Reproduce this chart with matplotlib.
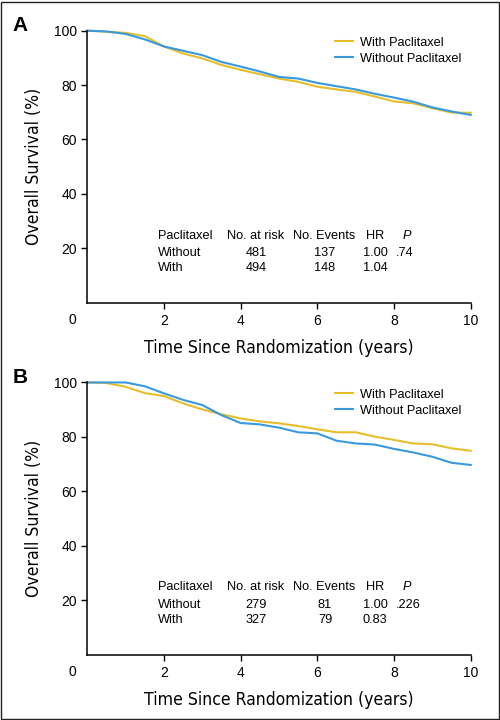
import matplotlib
matplotlib.use("Agg")
import matplotlib.pyplot as plt
from matplotlib.patches import Rectangle

# ---- data -----------------------------------------------------------------
years_a = [0, 0.5, 1.0, 1.5, 2.0, 2.5, 3.0, 3.5, 4.0, 4.5, 5.0, 5.5, 6.0,
           6.5, 7.0, 7.5, 8.0, 8.5, 9.0, 9.5, 10.0]
with_a = [100, 99.6, 99.2, 98.0, 94.2, 91.6, 89.8, 87.4, 85.6, 84.0, 82.4,
          81.2, 79.4, 78.4, 77.5, 75.8, 74.0, 73.3, 71.5, 69.9, 69.8]
without_a = [100, 99.7, 98.8, 96.8, 94.2, 92.6, 91.0, 88.5, 86.8, 85.0, 83.0,
             82.4, 80.8, 79.6, 78.4, 76.8, 75.4, 73.9, 71.8, 70.3, 69.0]

years_b = [0, 0.5, 1.0, 1.5, 2.0, 2.5, 3.0, 3.5, 4.0, 4.5, 5.0, 5.5, 6.0,
           6.5, 7.0, 7.5, 8.0, 8.5, 9.0, 9.5, 10.0]
with_b = [100, 99.8, 98.4, 96.1, 95.0, 92.3, 90.1, 88.3, 86.8, 85.7, 85.0,
          84.0, 82.8, 81.7, 81.7, 80.1, 78.9, 77.6, 77.3, 75.8, 74.9]
without_b = [100, 100, 100, 98.6, 96.0, 93.6, 91.7, 88.0, 85.1, 84.6, 83.4,
             81.7, 81.3, 78.6, 77.6, 77.2, 75.6, 74.3, 72.7, 70.5, 69.7]

table_header = ["Paclitaxel", "No. at risk", "No. Events", "HR", "P"]
groups = ["Without", "With"]
at_risk_a = ["481", "494"]
events_a = ["137", "148"]
hr_a = ["1.00", "1.04"]
p_a = ".74"
at_risk_b = ["279", "327"]
events_b = ["81", "79"]
hr_b = ["1.00", "0.83"]
p_b = ".226"

YELLOW = "#E5BE2A"
BLUE = "#3A99DE"
SANS = ["Liberation Sans", "DejaVu Sans"]
FS = 10      # tick labels
FS_T = 9.2   # table and legend

plt.rcParams["font.family"] = SANS
plt.rcParams["font.size"] = FS_T


def panel(ax, years, yw, ywo, at_risk, events, hr, p, letter):
    ax.plot(years, yw, color=YELLOW, lw=1.5, label="With Paclitaxel", clip_on=False)
    ax.plot(years, ywo, color=BLUE, lw=1.5, label="Without Paclitaxel", clip_on=False)
    ax.set_xlim(0, 10)
    ax.set_ylim(0, 100)
    ax.set_xticks([2, 4, 6, 8, 10])
    ax.set_yticks([20, 40, 60, 80, 100])
    for s in ("top", "right"):
        ax.spines[s].set_visible(False)
    for s in ("left", "bottom"):
        ax.spines[s].set_linewidth(1.1)
    ax.tick_params(direction="out", length=4.5, width=1.0, labelsize=FS, pad=3)
    ax.tick_params(axis="x", pad=3.5)
    ax.text(-0.4, -6.3, "0", ha="center", va="center", fontsize=FS)
    ax.set_xlabel("Time Since Randomization (years)", family="DejaVu Sans",
                  fontstretch="condensed", fontsize=12.6, labelpad=8)
    ax.set_ylabel("Overall Survival (%)", family="DejaVu Sans",
                  fontstretch="condensed", fontsize=12.6, labelpad=7.5)
    ax.legend(loc="upper left", bbox_to_anchor=(0.647, 0.977), frameon=False,
              borderaxespad=0, borderpad=0, handlelength=1.35,
              handletextpad=0.55, labelspacing=0.3, fontsize=FS_T)

    # summary table
    yh, y1, y2 = 24.7, 18.1, 12.8
    ax.text(1.85, yh, table_header[0], ha="left", va="center")
    ax.text(4.40, yh, table_header[1], ha="center", va="center")
    ax.text(6.17, yh, table_header[2], ha="center", va="center")
    ax.text(7.51, yh, table_header[3], ha="center", va="center")
    ax.text(8.33, yh, table_header[4], ha="center", va="center", style="italic")
    for yy, g, n, e, h in zip((y1, y2), groups, at_risk, events, hr):
        ax.text(1.85, yy, g, ha="left", va="center")
        ax.text(4.40, yy, n, ha="center", va="center")
        ax.text(6.20, yy, e, ha="center", va="center")
        ax.text(7.51, yy, h, ha="center", va="center")
    ax.text(8.06, y1, p, ha="left", va="center")

    ax.text(-0.175, 1.02, letter, transform=ax.transAxes, fontsize=15,
            fontweight="bold", ha="center", va="center")


fig = plt.figure(figsize=(5, 7.2), dpi=100)
ax_a = fig.add_axes([0.1746, 0.5796, 0.7668, 0.3778])
ax_b = fig.add_axes([0.1746, 0.0907, 0.7668, 0.3781])
panel(ax_a, years_a, with_a, without_a, at_risk_a, events_a, hr_a, p_a, "A")
panel(ax_b, years_b, with_b, without_b, at_risk_b, events_b, hr_b, p_b, "B")

fig.patches.append(Rectangle((0.002, 0.002), 0.995, 0.995, transform=fig.transFigure,
                             fill=False, edgecolor="#222222", lw=1.0))

fig.savefig("out.png", dpi=100)
